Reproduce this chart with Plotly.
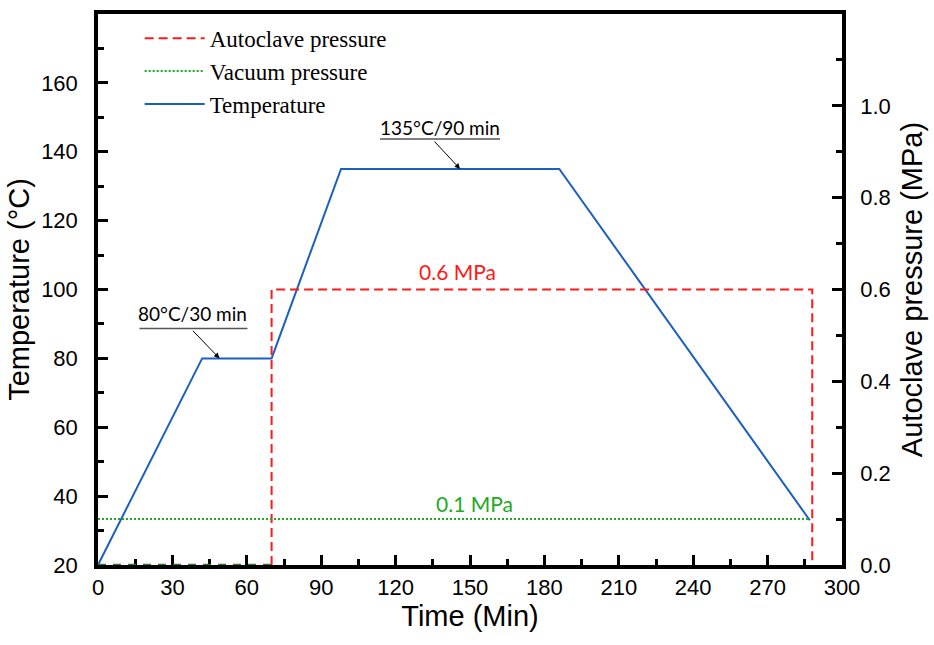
import plotly.graph_objects as go

# Cure cycle: temperature profile (left axis, °C)
time_temp = [0, 42, 70, 98, 186, 287]
temperature = [20, 80, 80, 135, 135, 33]

# Autoclave pressure (right axis, MPa)
time_autoclave = [70, 70, 288, 288]
autoclave_pressure = [0, 0.6, 0.6, 0]

# Autoclave pressure before it is applied
time_pre = [0, 70]
pre_pressure = [0, 0]

# Vacuum pressure (right axis, MPa)
time_vacuum = [0, 287]
vacuum_pressure = [0.1, 0.1]

# Dwell labels
dwell1 = dict(t=49, T=80, label="80°C/30 min")
dwell2 = dict(t=146, T=135, label="135°C/90 min")
autoclave_label = dict(t=145, p=0.6, label="0.6 MPa")
vacuum_label = dict(t=152, p=0.1, label="0.1 MPa")

RED = "#ff1a1a"
GREEN = "#1faa1f"
BLUE = "#1c5fc2"

fig = go.Figure()

fig.add_trace(go.Scatter(
    x=time_autoclave, y=autoclave_pressure, yaxis="y2", mode="lines",
    name="Autoclave pressure",
    line=dict(color=RED, width=2, dash="9px,5px"),
))
fig.add_trace(go.Scatter(
    x=time_vacuum, y=vacuum_pressure, yaxis="y2", mode="lines",
    name="Vacuum pressure",
    line=dict(color=GREEN, width=2, dash="2px,2px"),
))
fig.add_trace(go.Scatter(
    x=time_pre, y=pre_pressure, yaxis="y2", mode="lines",
    showlegend=False,
    line=dict(color="#2a7a2a", width=2.5, dash="8px,7px"),
))
fig.add_trace(go.Scatter(
    x=time_temp, y=temperature, mode="lines",
    name="Temperature",
    line=dict(color=BLUE, width=2),
))

tick_font = dict(family="Liberation Sans, Arial, sans-serif", size=22, color="black")
title_font = dict(family="Liberation Sans, Arial, sans-serif", size=29, color="black")
note_font = dict(family="Lato, Noto Sans, sans-serif", size=19, color="black")

annotations = []
shapes = []
for d, dx, dy, ax, ay, ux0, ux1 in [
    (dwell1, -27, 45, -28, -29, -80, 28),
    (dwell2, -20, 41, -27, -29, -80, 40),
]:
    annotations.append(dict(
        x=d["t"], y=d["T"], xref="x", yref="y", text="", showarrow=True,
        ax=ax, ay=ay, arrowhead=2, arrowsize=1.1, arrowwidth=1,
        arrowcolor="black",
    ))
    annotations.append(dict(
        x=d["t"], y=d["T"], xref="x", yref="y", text=d["label"],
        showarrow=False, xshift=dx, yshift=dy, font=note_font,
    ))
    shapes.append(dict(
        type="line", xref="x", yref="y",
        xsizemode="pixel", ysizemode="pixel",
        xanchor=d["t"], yanchor=d["T"],
        x0=ux0, x1=ux1, y0=30, y1=30,
        line=dict(color="#555555", width=1.5),
    ))

annotations.append(dict(
    x=autoclave_label["t"], y=autoclave_label["p"], xref="x", yref="y2",
    text=autoclave_label["label"], showarrow=False, yshift=18,
    font=dict(family="Lato, Noto Sans, sans-serif", size=21, color=RED),
))
annotations.append(dict(
    x=vacuum_label["t"], y=vacuum_label["p"], xref="x", yref="y2",
    text=vacuum_label["label"], showarrow=False, yshift=16,
    font=dict(family="Lato, Noto Sans, sans-serif", size=21, color=GREEN),
))

axis_common = dict(
    ticks="inside", ticklen=10, tickwidth=3, tickcolor="black",
    showline=True, linewidth=3.5, linecolor="black",
    showgrid=False, zeroline=False, tickfont=tick_font,
)

fig.update_layout(
    width=934, height=645,
    margin=dict(l=98, r=89, t=10, b=80),
    paper_bgcolor="white", plot_bgcolor="white",
    showlegend=True,
    legend=dict(
        x=0.056, y=0.995, xanchor="left", yanchor="top",
        bgcolor="rgba(0,0,0,0)",
        font=dict(family="Liberation Serif, Times New Roman, serif", size=23, color="black"),
        itemwidth=60, tracegroupgap=0,
    ),
    xaxis=dict(
        range=[0, 300], dtick=30, tick0=0,
        minor=dict(dtick=15, ticks="inside", ticklen=6, tickwidth=2.5, tickcolor="black"),
        mirror=True, ticklabelstandoff=0,
        title=dict(text="Time (Min)", font=title_font, standoff=8),
        layer="below traces",
        **axis_common,
    ),
    yaxis=dict(
        range=[20, 180], tickvals=[20, 40, 60, 80, 100, 120, 140, 160],
        minor=dict(dtick=10, ticks="inside", ticklen=6, tickwidth=2.5, tickcolor="black"),
        ticklabelstandoff=12,
        title=dict(text="Temperature (°C)", font=title_font, standoff=4),
        **axis_common,
    ),
    yaxis2=dict(
        range=[0, 1.2], overlaying="y", side="right",
        tickvals=[0, 0.2, 0.4, 0.6, 0.8, 1.0],
        ticktext=["0.0", "0.2", "0.4", "0.6", "0.8", "1.0"],
        minor=dict(dtick=0.1, ticks="inside", ticklen=6, tickwidth=2.5, tickcolor="black"),
        ticklabelstandoff=10,
        title=dict(text="Autoclave pressure (MPa)", font=title_font, standoff=13),
        **axis_common,
    ),
    annotations=annotations,
    shapes=shapes,
)

fig.write_html("out.html")
